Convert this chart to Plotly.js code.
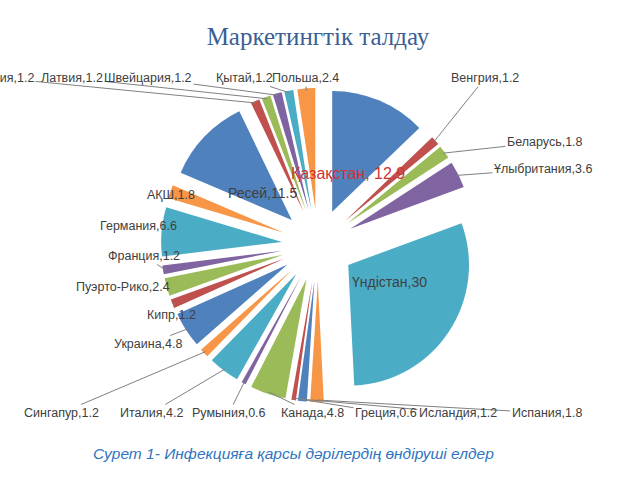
<!DOCTYPE html>
<html><head><meta charset="utf-8">
<script src="https://cdn.plot.ly/plotly-3.0.1.min.js"></script>
<style>html,body{margin:0;padding:0;background:#fff}#c{width:640px;height:480px}</style>
</head><body><div id="c"></div>
<script>
// ---- data ----
const countries = ["Қазақстан","Венгрия","Беларусь","Ұлыбритания","Үндістан","Испания","Исландия","Греция","Канада","Румыния","Италия","Сингапур","Украина","Кипр","Пуэрто-Рико","Франция","Германия","АҚШ","Ресей","Австрия","Латвия","Швейцария","Қытай","Польша"];
const shares = [12.9,1.2,1.8,3.6,30,1.8,1.2,0.6,4.8,0.6,4.2,1.2,4.8,1.2,2.4,1.2,6.6,1.8,11.5,1.2,1.2,1.2,1.2,2.4];

// ---- styles / label placement (layout, not data) ----
const palette = ["#4F81BD","#C0504D","#9BBB59","#8064A2","#4BACC6","#F79646"];
const insideLabels = ["Қазақстан","Үндістан","Ресей"];
// label centre positions in pixels [x, y]
const labelPos = [[348,173],[485,78],[545,142],[543,169],[389,282],[547,413],[458,413],[386,413],[312,413],[229,413],[151,413],[61,413],[148,344],[171,315],[123,287],[144,256],[138,226],[171,195],[262,193],[-5,78],[72,78],[148,78],[244,78],[305,78]];

const W=640, H=480, M={l:161,r:165,t:88,b:78}, PULL=0.3;
const pw=W-M.l-M.r, ph=H-M.t-M.b;
const cx=M.l+pw/2, cy=M.t+ph/2, Rout=Math.min(pw,ph)/2;
const toPX = x=>(x-M.l)/pw, toPY = y=>(M.t+ph-y)/ph;

const total = shares.reduce((a,b)=>a+b,0);
let cum=0;
const annotations = countries.map((c,i)=>{
  const mid=(cum+shares[i]/2)/total*2*Math.PI; cum+=shares[i];
  const txt = c==="Қазақстан" ? c+", "+shares[i] : c+","+shares[i];
  const [lx,ly]=labelPos[i];
  const base={text:txt, xref:"paper", yref:"paper", xanchor:"center", yanchor:"middle",
    font:{family:"Liberation Sans, Arial, sans-serif", size:12.5, color: c==="Қазақстан"?"#cf3434":"#404040"}};
  if(insideLabels.includes(c)){
    base.font.size = c==="Қазақстан" ? 16 : 14;
    return Object.assign(base,{x:toPX(lx), y:toPY(ly), showarrow:false});
  }
  const rr=Rout-2;
  const tx=cx+rr*Math.sin(mid), ty=cy-rr*Math.cos(mid);
  return Object.assign(base,{x:toPX(tx), y:toPY(ty), showarrow:true, arrowhead:0, arrowwidth:1,
    arrowcolor:"#808080", standoff:0, ax:lx-tx, ay:ly-ty, axref:"pixel", ayref:"pixel"});
});
annotations.push({text:"<i>Сурет 1- Инфекцияға қарсы дәрілердің өндіруші елдер</i>", xref:"paper", yref:"paper",
  x:toPX(293), y:toPY(453), xanchor:"center", yanchor:"middle", showarrow:false,
  font:{family:"Liberation Sans, Arial, sans-serif", size:15.5, color:"#2e74c0"}});

const trace = {
  type:"pie", labels:countries, values:shares, textinfo:"none",
  sort:false, direction:"clockwise", rotation:0,
  marker:{colors:countries.map((c,i)=>palette[i%6]), line:{color:"#ffffff", width:0}},
  pull: countries.map(()=>PULL),
  hoverinfo:"label+value", showlegend:false
};
const layout = {
  width:W, height:H, margin:M, paper_bgcolor:"#ffffff",
  title:{text:"Маркетингтік талдау", x:0.5, xref:"paper", y:0.925, yref:"container", yanchor:"middle",
    font:{family:"Liberation Serif, Times New Roman, serif", size:25, color:"#3a5f95"}},
  annotations:annotations
};
Plotly.newPlot("c",[trace],layout,{displayModeBar:false});
</script></body></html>
